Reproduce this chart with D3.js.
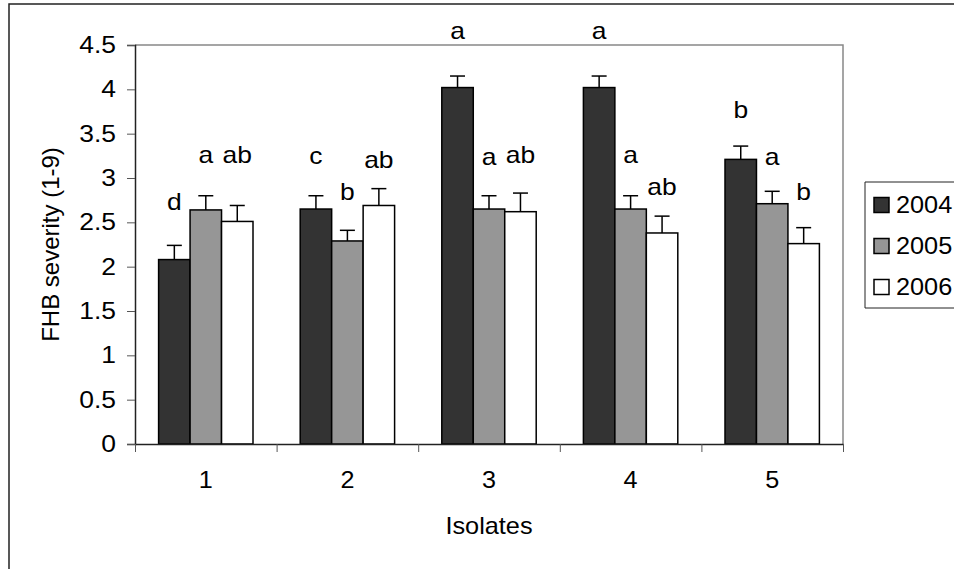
<!DOCTYPE html>
<html>
<head>
<meta charset="utf-8">
<script src="https://d3js.org/d3.v7.min.js"></script>
<style>
  html, body { margin: 0; padding: 0; overflow: hidden; background: #fff; }
  svg { display: block; }
  text { font-family: "Liberation Sans", Arial, sans-serif; fill: #000; }
</style>
</head>
<body>
<div id="chart"></div>
<script>
// data
var isolates = ["1", "2", "3", "4", "5"];
var years = ["2004", "2005", "2006"];

var mean2004 = [2.08, 2.65, 4.02, 4.02, 3.21];
var mean2005 = [2.64, 2.29, 2.65, 2.65, 2.71];
var mean2006 = [2.51, 2.69, 2.62, 2.38, 2.26];

var se2004 = [0.16, 0.15, 0.13, 0.13, 0.15];
var se2005 = [0.16, 0.12, 0.15, 0.15, 0.14];
var se2006 = [0.18, 0.19, 0.21, 0.19, 0.18];

// significance letters and the height (in axis units) where each one sits
var letters2004 = ["d", "c", "a", "a", "b"];
var letters2005 = ["a", "b", "a", "a", "a"];
var letters2006 = ["ab", "ab", "ab", "ab", "b"];
var letterY2004 = [2.64, 3.16, 4.57, 4.57, 3.68];
var letterY2005 = [3.17, 2.75, 3.15, 3.17, 3.15];
var letterY2006 = [3.17, 3.11, 3.17, 2.81, 2.75];

var yTicks = [0, 0.5, 1, 1.5, 2, 2.5, 3, 3.5, 4, 4.5];

var colors = ["#333333", "#969696", "#ffffff"];

var svgWidth = 954;
var svgHeight = 569;

var margin = { top: 45, right: 111, bottom: 125, left: 135 };
var width = svgWidth - margin.left - margin.right;
var height = svgHeight - margin.top - margin.bottom;

// the source text is a little wider than normal Arial, so stretch it sideways
function stretch(sel, k) {
  sel.each(function () {
    var t = d3.select(this);
    var tx = +t.attr("x") || 0;
    var ty = +t.attr("y") || 0;
    t.attr("x", 0)
      .attr("y", 0)
      .attr("transform", "translate(" + tx + "," + ty + ") scale(" + k + ",1)");
  });
}

// build rows from the arrays
var means = [mean2004, mean2005, mean2006];
var ses = [se2004, se2005, se2006];
var letters = [letters2004, letters2005, letters2006];
var letterYs = [letterY2004, letterY2005, letterY2006];

var data = isolates.map(function (iso, i) {
  return {
    isolate: iso,
    bars: years.map(function (yr, j) {
      return { year: yr, idx: j, value: means[j][i], se: ses[j][i],
               letter: letters[j][i], letterY: letterYs[j][i] };
    })
  };
});

var svg = d3.select("#chart")
  .append("svg")
  .attr("width", svgWidth)
  .attr("height", svgHeight);

// outer chart frame: only left and top show, the rest is cut off
svg.append("path")
  .attr("d", "M9," + svgHeight + "V4H" + svgWidth)
  .attr("fill", "none")
  .attr("stroke", "#222")
  .attr("stroke-width", 1.5);

var chartGroup = svg.append("g")
  .attr("transform", "translate(" + margin.left + "," + margin.top + ")");

// scales
var x0 = d3.scaleBand()
  .domain(isolates)
  .range([0, width])
  .padding(0);

var x1 = d3.scaleBand()
  .domain(years)
  .range([0, x0.bandwidth()])
  .paddingInner(0)
  .paddingOuter(0.75);

var y = d3.scaleLinear()
  .domain([0, 4.5])
  .range([height, 0]);

var xEdges = d3.scaleLinear()
  .domain([0, isolates.length])
  .range([0, width]);

// plot area border (grey top and right)
chartGroup.append("path")
  .attr("d", "M0,0H" + width + "V" + height)
  .attr("fill", "none")
  .attr("stroke", "#888")
  .attr("stroke-width", 1.5);

// bars
var groups = chartGroup.selectAll(".group")
  .data(data)
  .enter()
  .append("g")
  .attr("class", "group")
  .attr("transform", d => "translate(" + x0(d.isolate) + ",0)");

groups.selectAll("rect")
  .data(d => d.bars)
  .enter()
  .append("rect")
  .attr("x", d => x1(d.year))
  .attr("y", d => y(d.value))
  .attr("width", x1.bandwidth())
  .attr("height", d => height - y(d.value))
  .attr("fill", d => colors[d.idx])
  .attr("stroke", "#000")
  .attr("stroke-width", 1.5);

// error bars (upper only)
var capHalf = 7.5;
var errs = groups.selectAll(".err")
  .data(d => d.bars)
  .enter()
  .append("g")
  .attr("class", "err")
  .attr("stroke", "#000")
  .attr("stroke-width", 1.5);

errs.append("line")
  .attr("x1", d => x1(d.year) + x1.bandwidth() / 2)
  .attr("x2", d => x1(d.year) + x1.bandwidth() / 2)
  .attr("y1", d => y(d.value))
  .attr("y2", d => y(d.value + d.se));

errs.append("line")
  .attr("x1", d => x1(d.year) + x1.bandwidth() / 2 - capHalf)
  .attr("x2", d => x1(d.year) + x1.bandwidth() / 2 + capHalf)
  .attr("y1", d => y(d.value + d.se))
  .attr("y2", d => y(d.value + d.se));

// significance letters
groups.selectAll(".letter")
  .data(d => d.bars)
  .enter()
  .append("text")
  .attr("class", "letter")
  .attr("x", d => x1(d.year) + x1.bandwidth() / 2)
  .attr("y", d => y(d.letterY))
  .attr("text-anchor", "middle")
  .style("font-size", "23px")
  .text(d => d.letter)
  .call(stretch, 1.15);

// y axis
var leftAxis = d3.axisLeft(y)
  .tickValues(yTicks)
  .tickFormat(d => String(d))
  .tickSize(8)
  .tickPadding(11);

var yAxis = chartGroup.append("g")
  .call(leftAxis);
yAxis.select(".domain").attr("stroke", "#222").attr("stroke-width", 1.5);
yAxis.selectAll(".tick line").attr("stroke", "#555");
yAxis.selectAll("text")
  .style("font-size", "23px")
  .style("font-family", "'Liberation Sans', Arial, sans-serif")
  .attr("fill", "#000")
  .call(stretch, 1.15);

// x axis: tick marks at category edges, labels at centres
var edgeAxis = d3.axisBottom(xEdges)
  .ticks(isolates.length)
  .tickFormat("")
  .tickSizeInner(8)
  .tickSizeOuter(0);

var xAxisEdges = chartGroup.append("g")
  .attr("transform", "translate(0," + height + ")")
  .call(edgeAxis);
xAxisEdges.select(".domain").attr("stroke", "#222").attr("stroke-width", 1.5);
xAxisEdges.selectAll(".tick line").attr("stroke", "#555");

var labelAxis = d3.axisBottom(x0)
  .tickSize(0)
  .tickPadding(27);

var xAxisLabels = chartGroup.append("g")
  .attr("transform", "translate(0," + height + ")")
  .call(labelAxis);
xAxisLabels.select(".domain").remove();
xAxisLabels.selectAll("text")
  .style("font-size", "24px")
  .style("font-family", "'Liberation Sans', Arial, sans-serif")
  .attr("fill", "#000")
  .call(stretch, 1.05);

// axis titles
chartGroup.append("text")
  .attr("x", width / 2)
  .attr("y", height + 90)
  .attr("text-anchor", "middle")
  .style("font-size", "23px")
  .text("Isolates")
  .call(stretch, 1.1);

chartGroup.append("text")
  .attr("transform", "rotate(-90)")
  .attr("x", -height / 2)
  .attr("y", 51 - margin.left)
  .attr("dy", "0.35em")
  .attr("text-anchor", "middle")
  .style("font-size", "24px")
  .text("FHB severity (1-9)");

// legend (box runs off the right edge, so no right side)
var legend = svg.append("g")
  .attr("transform", "translate(865,182)");

legend.append("rect")
  .attr("width", 120)
  .attr("height", 126)
  .attr("fill", "#fff");

legend.append("path")
  .attr("d", "M" + (svgWidth - 865) + ",0H0V126H" + (svgWidth - 865))
  .attr("fill", "none")
  .attr("stroke", "#222")
  .attr("stroke-width", 1);

var legendRows = legend.selectAll(".row")
  .data(years)
  .enter()
  .append("g")
  .attr("class", "row")
  .attr("transform", (d, i) => "translate(0," + (23 + i * 41) + ")");

legendRows.append("rect")
  .attr("x", 9)
  .attr("y", -7.5)
  .attr("width", 15)
  .attr("height", 15)
  .attr("fill", (d, i) => colors[i])
  .attr("stroke", "#000")
  .attr("stroke-width", 1.5);

legendRows.append("text")
  .attr("x", 31)
  .attr("y", 8)
  .style("font-size", "23px")
  .text(d => d)
  .call(stretch, 1.1);
</script>
</body>
</html>
